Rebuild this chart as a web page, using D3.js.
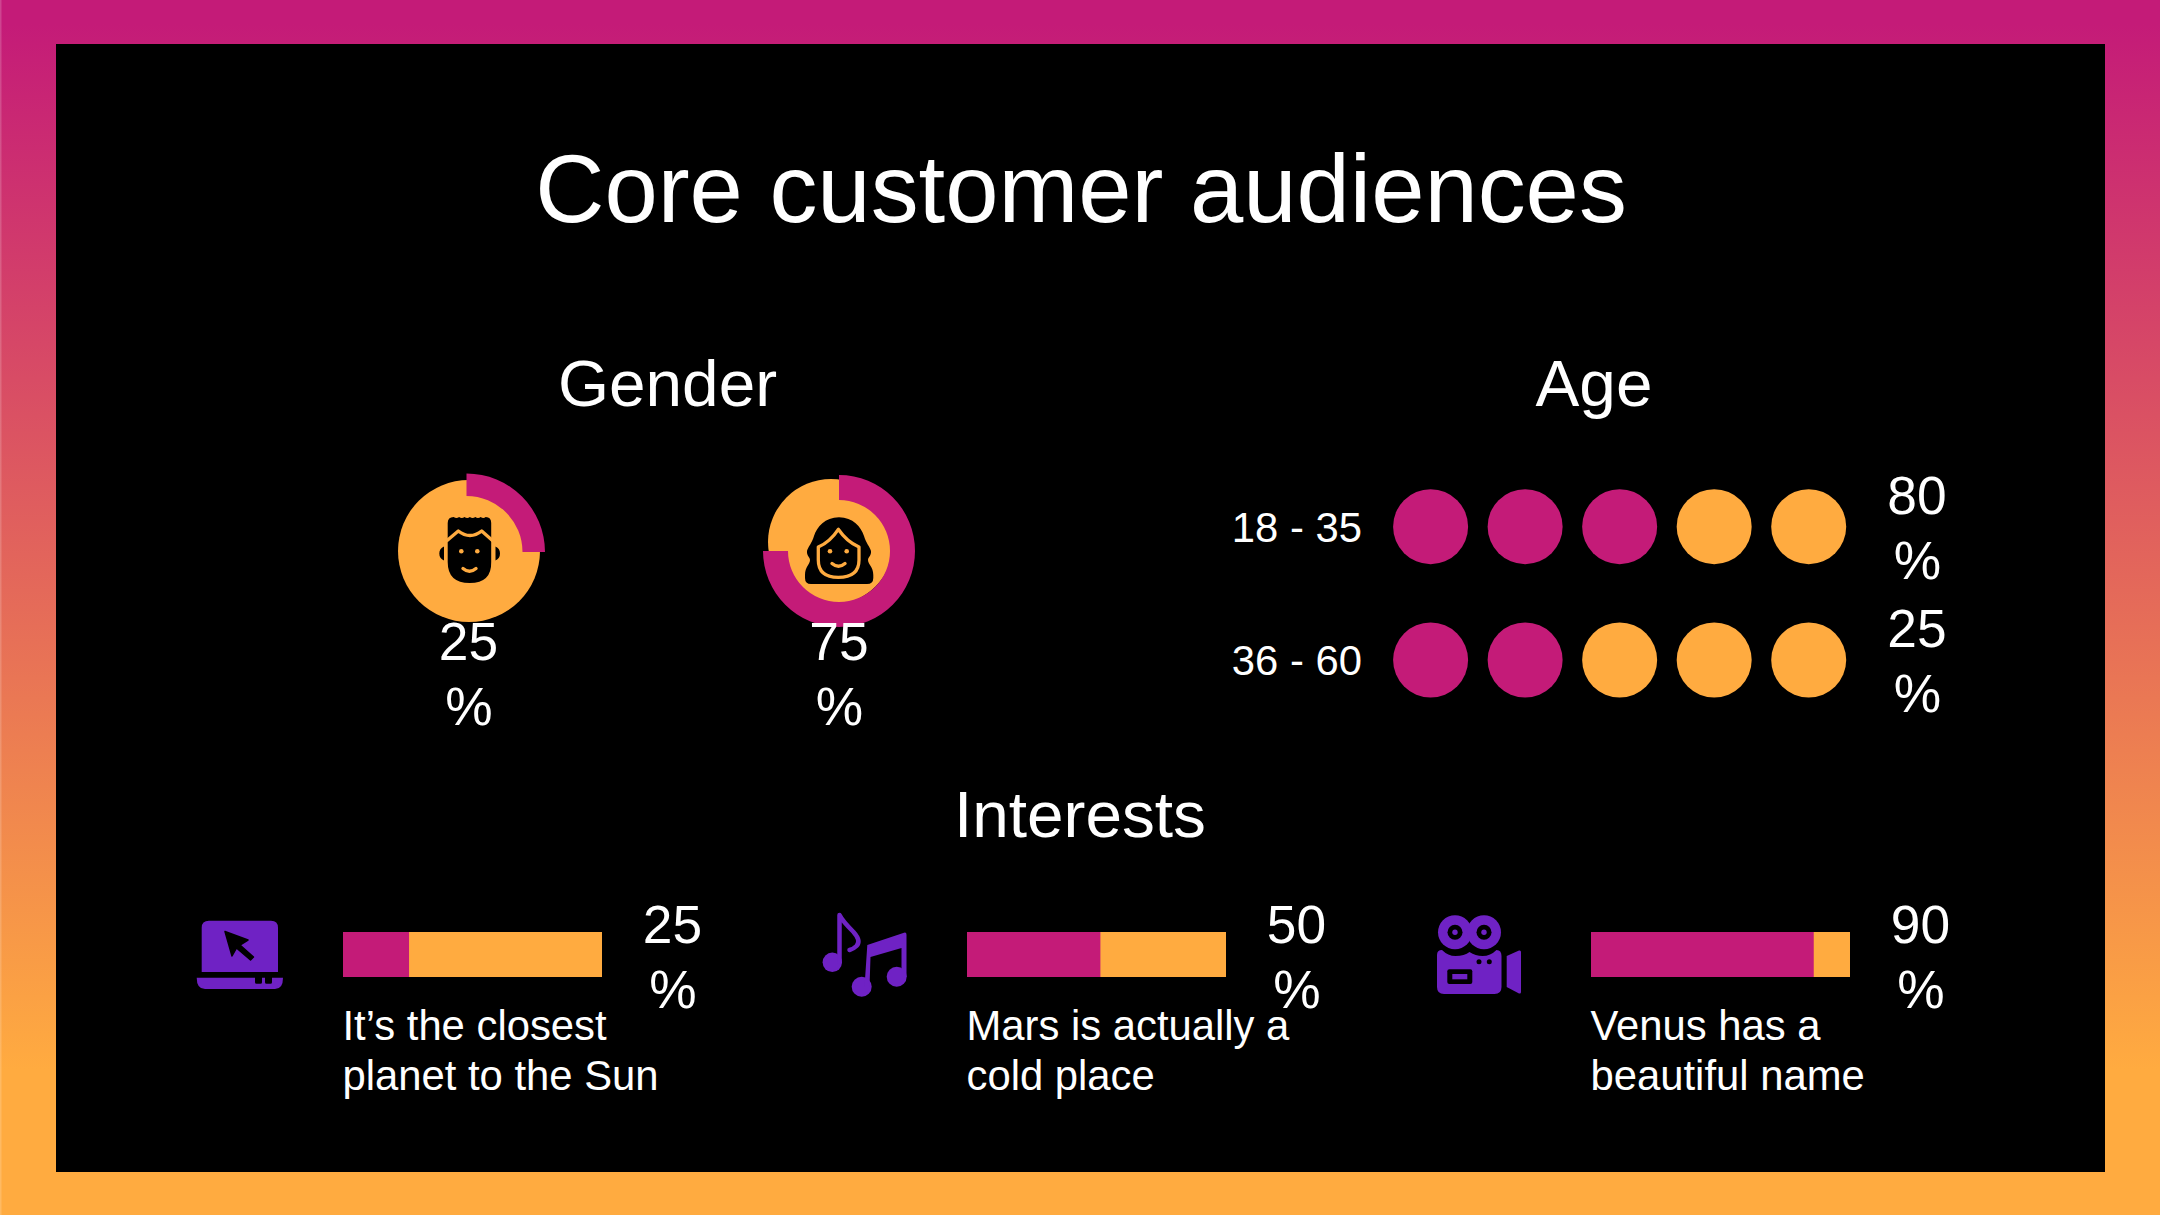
<!DOCTYPE html>
<html><head><meta charset="utf-8">
<style>html,body{margin:0;padding:0;background:#000;overflow:hidden}svg{display:block}text{font-family:"Liberation Sans",Arial,sans-serif;fill:#fff}</style>
<script src="https://cdn.jsdelivr.net/npm/d3@7/dist/d3.min.js"></script>
</head><body><svg id="c" width="2160" height="1215"></svg>
<script>
const title = "Core customer audiences";
const sections = ["Gender", "Age", "Interests"];
const genderValues = [25, 75];
const ageCategories = ["18 - 35", "36 - 60"];
const ageDotsFilled = [3, 2];
const agePercents = [80, 25];
const interestPercents = [25, 50, 90];
const interestBarFill = [25.5, 51.5, 86];
const interestText = [["It’s the closest", "planet to the Sun"], ["Mars is actually a", "cold place"], ["Venus has a", "beautiful name"]];

const MAGENTA = "#c41b78", ORANGE = "#ffab40", PURPLE = "#6f22c4";
const svg = d3.select("#c");
const defs = svg.append("defs");
const g = defs.append("linearGradient").attr("id", "bg").attr("x1", 0).attr("y1", 0).attr("x2", 0).attr("y2", 1);
g.append("stop").attr("offset", "0.02").attr("stop-color", MAGENTA);
g.append("stop").attr("offset", "0.88").attr("stop-color", ORANGE);
svg.append("rect").attr("width", 2160).attr("height", 1215).attr("fill", "url(#bg)");
svg.append("rect").attr("x", 0).attr("y", 0).attr("width", 1.5).attr("height", 1215).attr("fill", "#fff").attr("opacity", 0.18);
svg.append("rect").attr("x", 56).attr("y", 44).attr("width", 2049).attr("height", 1128).attr("fill", "#000");

function label(x, y, t, size, anchor = "middle") {
  return svg.append("text").attr("x", x).attr("y", y).attr("font-size", size).attr("text-anchor", anchor).text(t);
}
function pct(x, y, v) { label(x, y, v, 53.3); label(x + 0.5, y + 65, "%", 53.3); }

label(1081, 222, title, 95.8);
label(667.5, 405.5, sections[0], 65.7);
label(1594, 405.5, sections[1], 65.7);
label(1080, 836.5, sections[2], 65.7);

/* Gender donuts */
const angle = d3.scaleLinear().domain([0, 100]).range([0, 2 * Math.PI]);
const donutLayout = [
  {disc: [469, 551, 71], arc: [466.5, 552, 56, 78.5], text: 468.5},
  {disc: [831, 542, 63], arc: [839, 551, 51, 76], text: 839}
];
genderValues.forEach((v, i) => {
  const d = donutLayout[i];
  svg.append("circle").attr("cx", d.disc[0]).attr("cy", d.disc[1]).attr("r", d.disc[2]).attr("fill", ORANGE);
  svg.append("path").attr("transform", `translate(${d.arc[0]},${d.arc[1]})`)
    .attr("d", d3.arc().innerRadius(d.arc[2]).outerRadius(d.arc[3]).startAngle(0).endAngle(angle(v))())
    .attr("fill", MAGENTA);
  pct(d.text, 660, v);
});

/* Male face icon */
const male = svg.append("g");
male.append("path").attr("fill", "#000").attr("d",
  "M447.700 523 q0-6 6-6 q2.700 2 5.400 0 q2.700 2 5.400 0 q2.700 2 5.400 0 q2.700 2 5.400 0 q2.700 2 5.400 0 q2.700 2 5 0 q5.500 0 5.500 6 V562 Q491.700 583 469.700 583 Q447.700 583 447.700 562Z");
male.append("path").attr("fill", "#000").attr("d", "M444 546.500 q-4.700 2-4.700 7 q0 5 4.700 7Z M495.500 546.500 q4.500 2 4.500 7 q0 5-4.500 7Z");
male.append("path").attr("fill", "none").attr("stroke", ORANGE).attr("stroke-width", 3.3).attr("stroke-linejoin", "round")
  .attr("d", "M446.500 541 L458.300 531 Q464 535.500 470 535.500 Q476 535.500 481.700 531 L493 541");
male.selectAll(".e").data([461.3, 477.3]).join("circle").attr("cx", d => d).attr("cy", 551.3).attr("r", 2.3).attr("fill", ORANGE);
male.append("path").attr("fill", "none").attr("stroke", ORANGE).attr("stroke-width", 3.4).attr("stroke-linecap", "round").attr("d", "M463 568.500 Q469.500 574 476 568.500");

/* Female face icon */
const fem = svg.append("g");
fem.append("path").attr("fill", "#000").attr("d",
  "M839 517.300 C853 517.300 861 527 864 536 C866 543 870 547 871 551 C871.500 556 868 557 868 560 C868 564 873.300 567 873.300 575 L873.300 578 Q873.300 584 867 584 H811 Q805 584 805 578 V575 C805 567 810 564 810 560 C810 557 806.500 556 807 551 C808 547 812 543 814 536 C817 527 825 517.300 839 517.300Z");
fem.append("path").attr("fill", "none").attr("stroke", ORANGE).attr("stroke-width", 3.3).attr("stroke-linejoin", "round")
  .attr("d", "M838.300 529.300 Q830 542 818.300 547 V560 Q818.300 577.300 838.300 577.300 Q859 577.300 859 560 V547 Q847 542 838.300 529.300Z");
fem.selectAll(".e").data([830, 846.7]).join("circle").attr("cx", d => d).attr("cy", 551.3).attr("r", 2.3).attr("fill", ORANGE);
fem.append("path").attr("fill", "none").attr("stroke", ORANGE).attr("stroke-width", 3.4).attr("stroke-linecap", "round").attr("d", "M832 563.500 Q838.500 569 845 563.500");

/* Age dots */
const dotX = d3.scaleLinear().domain([0, 4]).range([1430.6, 1808.7]);
const rowY = d3.scalePoint().domain(ageCategories).range([526.7, 660]);
ageCategories.forEach((c, i) => {
  const y = rowY(c);
  label(1362, y + 15, c, 41.8, "end");
  svg.selectAll(null).data(d3.range(5)).join("circle")
    .attr("cx", d => dotX(d)).attr("cy", y).attr("r", 37.5)
    .attr("fill", d => d < ageDotsFilled[i] ? MAGENTA : ORANGE);
  pct(1917, y - 12.7, agePercents[i]);
});

/* Interest bars */
const barLeft = [343, 967, 1591];
interestPercents.forEach((p, i) => {
  const x = d3.scaleLinear().domain([0, 100]).range([barLeft[i], barLeft[i] + 259]);
  svg.append("rect").attr("x", x(0)).attr("y", 932).attr("width", x(100) - x(0)).attr("height", 45).attr("fill", ORANGE);
  svg.append("rect").attr("x", x(0)).attr("y", 932).attr("width", x(interestBarFill[i]) - x(0)).attr("height", 45).attr("fill", MAGENTA);
  pct(barLeft[i] + 329.5, 942.5, p);
  interestText[i].forEach((t, j) => label(barLeft[i] - 0.5, 1040 + j * 50, t, 41.8, "start"));
});

/* Laptop icon */
const lap = svg.append("g").attr("fill", PURPLE);
lap.append("path").attr("d", "M209 920.700 H271 q7 0 7 7 V972 H201.700 V927.700 q0-7 7.300-7Z");
lap.append("path").attr("d", "M196.700 977.700 H255 v4.500 q0 1.500 1.500 1.500 h4 q1.500 0 1.500-1.500 V977.700 H265 v4.500 q0 1.500 1.500 1.500 h4 q1.500 0 1.500-1.500 V977.700 H283 q0 11.300-8 11.300 H205 q-8.300 0-8.300-11.300Z");
svg.append("path").attr("fill", "#000").attr("d", "M225 931.500 L248 940 L240 945 L253.500 957 L250.500 960 L236.500 948 L232 956Z")
  .attr("stroke", "#000").attr("stroke-width", 1.5).attr("stroke-linejoin", "round");

/* Music icon */
const mus = svg.append("g");
mus.selectAll(".h").data([[832.3, 962.3, 9.7], [861.7, 986.7, 10], [896.7, 976.7, 10]]).join("circle")
  .attr("cx", d => d[0]).attr("cy", d => d[1]).attr("r", d => d[2]).attr("fill", PURPLE);
mus.append("path").attr("fill", "none").attr("stroke", PURPLE).attr("stroke-width", 4.5).attr("stroke-linecap", "round").attr("stroke-linejoin", "round")
  .attr("d", "M839.500 962 V915 q3 6 14 17 q8 9 3 14 q-3 3-7 4");
mus.append("path").attr("fill", PURPLE).attr("d", "M867.300 945 L904 932.700 q2.500-.7 2.500 2 V977 h-5 V948 L870.500 957 L869.500 987 h-5 Z");

/* Camera icon */
const cam = svg.append("g");
cam.selectAll(".r").data([1455, 1484]).join("circle").attr("cx", d => d).attr("cy", 932.3).attr("r", 17).attr("fill", PURPLE);
cam.selectAll(".r2").data([1455, 1484]).join("circle").attr("cx", d => d).attr("cy", 932.3).attr("r", 7.5).attr("fill", "#000");
cam.selectAll(".r3").data([1455, 1484]).join("circle").attr("cx", d => d).attr("cy", 932.3).attr("r", 2.7).attr("fill", PURPLE);
cam.append("path").attr("fill", PURPLE).attr("d", "M1442 950 q6 6 13.500 6 q9 0 14-4 q6 4 13 4 q8 0 14-6 q5 0 5 6 V987 q0 7-7 7 H1444 q-7 0-7-7 V955 q0-5 5-5Z");
cam.append("path").attr("fill", PURPLE).attr("d", "M1506.700 956 L1519 950.500 q2-.5 2 1.500 V992 q0 2-2 1.500 L1506.700 987Z");
cam.append("rect").attr("x", 1447.3).attr("y", 969.3).attr("width", 25).attr("height", 14.7).attr("rx", 2).attr("fill", "#000");
cam.append("rect").attr("x", 1452.3).attr("y", 974).attr("width", 15).attr("height", 5.3).attr("fill", PURPLE);
cam.selectAll(".d").data([1479, 1489.3]).join("circle").attr("cx", d => d).attr("cy", 961.7).attr("r", 2.5).attr("fill", "#000");
</script></body></html>
